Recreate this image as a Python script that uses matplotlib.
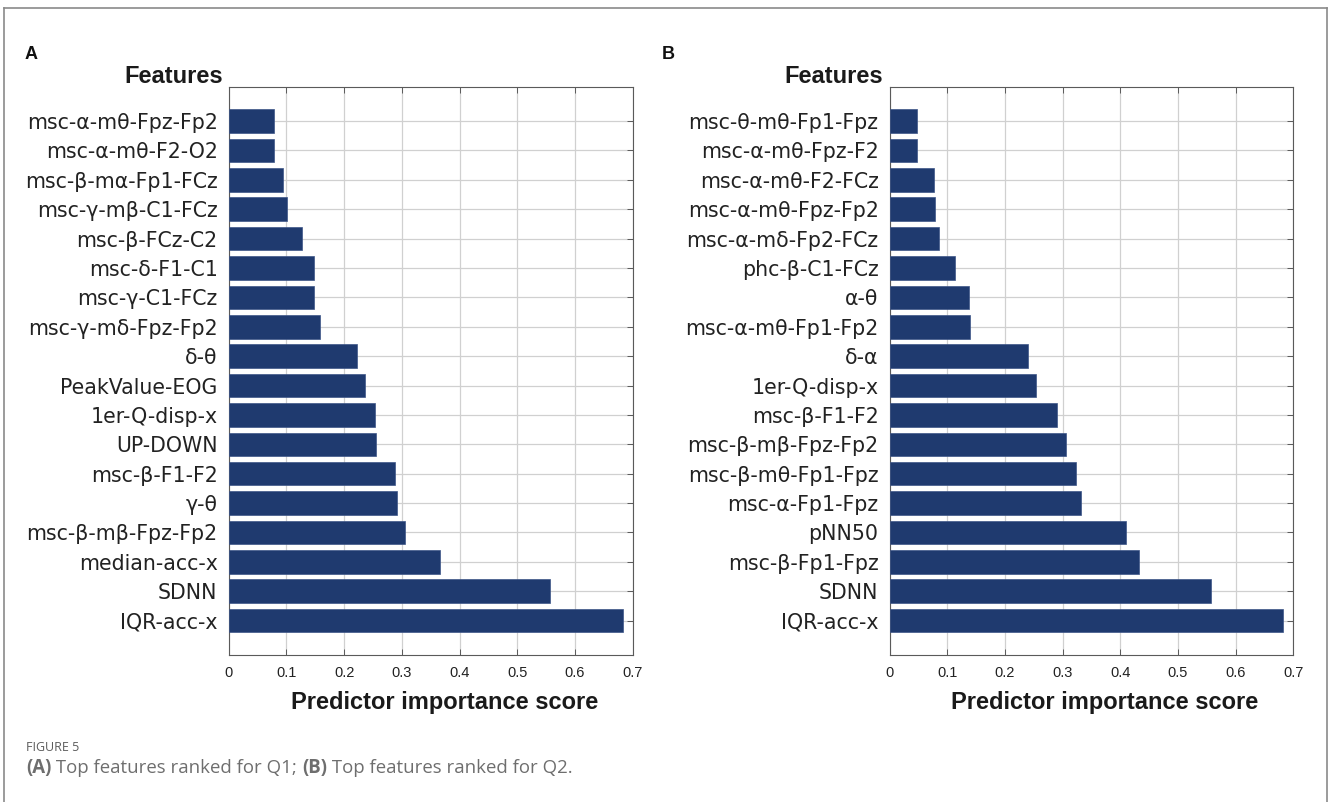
import matplotlib
matplotlib.use("Agg")
import matplotlib.pyplot as plt
import numpy as np
from matplotlib.lines import Line2D

# ---------------- data ----------------
labels_a = ["msc-α-mθ-Fpz-Fp2", "msc-α-mθ-F2-O2", "msc-β-mα-Fp1-FCz", "msc-γ-mβ-C1-FCz",
            "msc-β-FCz-C2", "msc-δ-F1-C1", "msc-γ-C1-FCz", "msc-γ-mδ-Fpz-Fp2", "δ-θ",
            "PeakValue-EOG", "1er-Q-disp-x", "UP-DOWN", "msc-β-F1-F2", "γ-θ",
            "msc-β-mβ-Fpz-Fp2", "median-acc-x", "SDNN", "IQR-acc-x"]
values_a = [0.079, 0.079, 0.094, 0.101, 0.127, 0.147, 0.147, 0.158, 0.223,
            0.236, 0.254, 0.255, 0.289, 0.292, 0.306, 0.366, 0.557, 0.683]

labels_b = ["msc-θ-mθ-Fp1-Fpz", "msc-α-mθ-Fpz-F2", "msc-α-mθ-F2-FCz", "msc-α-mθ-Fpz-Fp2",
            "msc-α-mδ-Fp2-FCz", "phc-β-C1-FCz", "α-θ", "msc-α-mθ-Fp1-Fp2", "δ-α",
            "1er-Q-disp-x", "msc-β-F1-F2", "msc-β-mβ-Fpz-Fp2", "msc-β-mθ-Fp1-Fpz",
            "msc-α-Fp1-Fpz", "pNN50", "msc-β-Fp1-Fpz", "SDNN", "IQR-acc-x"]
values_b = [0.047, 0.047, 0.076, 0.079, 0.086, 0.113, 0.138, 0.140, 0.240,
            0.254, 0.290, 0.305, 0.323, 0.332, 0.410, 0.433, 0.557, 0.683]

x_ticks = [0, 0.1, 0.2, 0.3, 0.4, 0.5, 0.6, 0.7]
x_ticklabels = ["0", "0.1", "0.2", "0.3", "0.4", "0.5", "0.6", "0.7"]
panel_letters = ["A", "B"]
y_title = "Features"
x_title = "Predictor importance score"
fig_label = "FIGURE 5"
caption_parts = [("(A)", True), (" Top features ranked for Q1; ", False),
                 ("(B)", True), (" Top features ranked for Q2.", False)]

# ---------------- style ----------------
W, H = 1328, 802
DPI = 100
fig = plt.figure(figsize=(W / DPI, H / DPI), dpi=DPI)
fig.patch.set_facecolor("white")

BAR_COLOR = "#1f3a6f"
GRID_COLOR = "#d0d0d0"
SPINE_COLOR = "#5a5a5a"
HEAD_FONT = "Liberation Sans"

def px_x(x):
    return x / W

def px_y(y):
    return 1 - y / H

panels = [
    dict(left=228.7, right=632.7, labels=labels_a, values=values_a, letter_x=25,
         feat_right=222.7, xlabel_cx=445),
    dict(left=889.7, right=1293.3, labels=labels_b, values=values_b, letter_x=662,
         feat_right=883.3, xlabel_cx=1105),
]
top_px, bot_px = 86.7, 655.0

for p, letter in zip(panels, panel_letters):
    ax = fig.add_axes([px_x(p["left"]), px_y(bot_px),
                       px_x(p["right"] - p["left"]), (bot_px - top_px) / H])
    n = len(p["labels"])
    ypos = np.arange(n)
    ax.barh(ypos, p["values"], height=0.8, color=BAR_COLOR,
            edgecolor="#3d5588", linewidth=0.5, zorder=3)
    ax.set_xlim(0, 0.7)
    ax.set_ylim(n - 1 + 1.17, -1.17)
    ax.set_xticks(x_ticks)
    ax.set_xticklabels(x_ticklabels, fontfamily=HEAD_FONT, fontsize=10.5, color="#222222")
    ax.set_yticks(ypos)
    ax.set_yticklabels(p["labels"], fontfamily=["DejaVu Sans"], fontsize=14.8, color="#222222")
    ax.grid(True, color=GRID_COLOR, linewidth=0.9, zorder=0)
    ax.set_axisbelow(True)
    ax.tick_params(axis="both", direction="in", length=4, width=0.7, color=SPINE_COLOR,
                   top=True, right=True)
    ax.tick_params(axis="x", pad=8)
    ax.tick_params(axis="y", pad=8)
    for s in ax.spines.values():
        s.set_color(SPINE_COLOR)
        s.set_linewidth(0.8)

    # "Features" header
    fig.text(px_x(p["feat_right"]), px_y(83.3), y_title, ha="right", va="baseline",
             fontfamily=HEAD_FONT, fontweight="bold", fontsize=17, color="#1a1a1a")
    # x axis title
    fig.text(px_x(p["xlabel_cx"]), px_y(703), x_title, ha="center", va="center",
             fontfamily=HEAD_FONT, fontweight="bold", fontsize=17, color="#1a1a1a")
    # panel letter
    fig.text(px_x(p["letter_x"]), px_y(59.3), letter, ha="left", va="baseline",
             fontfamily=HEAD_FONT, fontweight="bold", fontsize=13, color="#111111")

# frame lines (left, top, right)
frame_col = "#8a8a8a"
fig.add_artist(Line2D([px_x(4), px_x(4)], [0, px_y(8)], transform=fig.transFigure,
                      color=frame_col, linewidth=1.2))
fig.add_artist(Line2D([px_x(4), px_x(1326.5)], [px_y(8), px_y(8)], transform=fig.transFigure,
                      color=frame_col, linewidth=1.2))
fig.add_artist(Line2D([px_x(1326.5), px_x(1326.5)], [0, px_y(8)], transform=fig.transFigure,
                      color=frame_col, linewidth=1.2))

# caption
cap_font = "Open Sans"
fig.text(px_x(26), px_y(751), fig_label, ha="left", va="baseline", fontfamily=cap_font,
         fontsize=9, color="#5c5c5c")

fig.canvas.draw()
renderer = fig.canvas.get_renderer()
xcur = 26
for txt, bold in caption_parts:
    t = fig.text(px_x(xcur), px_y(773), txt, ha="left", va="baseline", fontfamily=cap_font,
                 fontsize=13.4, color="#6e6e6e", fontweight="bold" if bold else "normal")
    bb = t.get_window_extent(renderer=renderer)
    xcur += bb.width

fig.savefig("out.png", dpi=DPI, facecolor="white")
